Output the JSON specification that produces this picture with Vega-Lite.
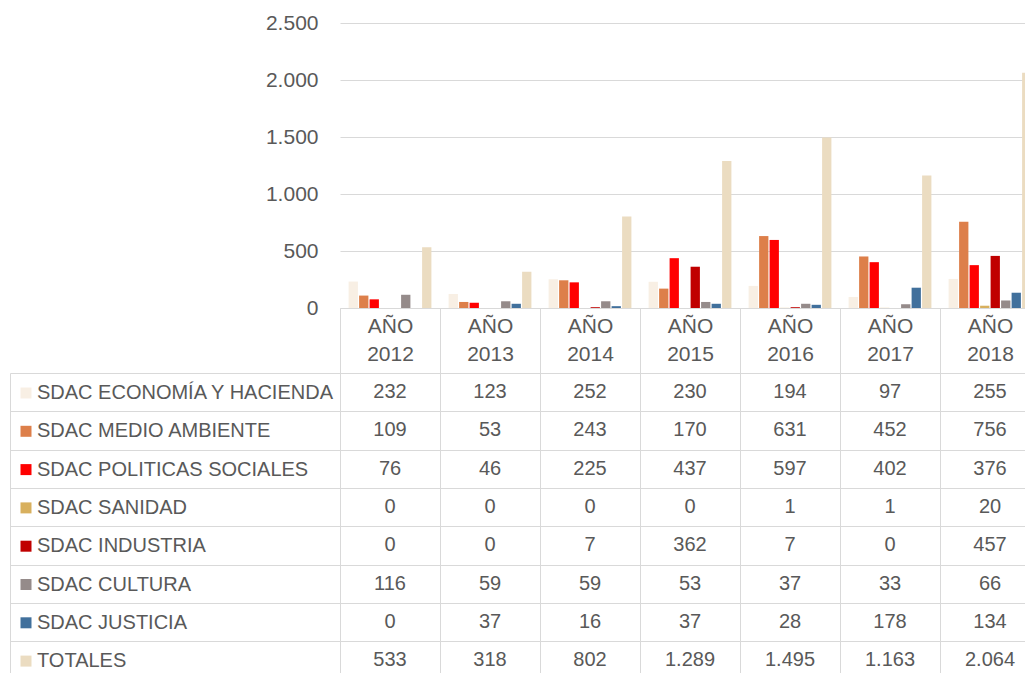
{
  "$schema": "https://vega.github.io/schema/vega-lite/v6.json",
  "width": 1025,
  "height": 673,
  "autosize": {"type": "none"},
  "padding": 0,
  "background": "white",
  "config": {
    "view": {"stroke": null},
    "font": "Liberation Sans",
    "locale": {"number": {"decimal": ",", "thousands": ".", "grouping": [3], "currency": ["", " €"]}},
    "axisX": {
      "orient": "bottom", "offset": -365, "title": null, "grid": false,
      "domainColor": "#d9d9d9", "domainWidth": 1,
      "tickBand": "extent", "tickSize": 365, "tickColor": "#d9d9d9", "tickWidth": 1,
      "labelPadding": -358, "labelExpr": "split(datum.label, ' ')",
      "labelFontSize": 21, "labelColor": "#595959", "labelBaseline": "top",
      "labelLineHeight": 28, "labelAngle": 0
    }
  },
  "datasets": {
    "d": [
      {"year": "AÑO 2012", "series": "SDAC ECONOMÍA Y HACIENDA", "value": 232},
      {"year": "AÑO 2013", "series": "SDAC ECONOMÍA Y HACIENDA", "value": 123},
      {"year": "AÑO 2014", "series": "SDAC ECONOMÍA Y HACIENDA", "value": 252},
      {"year": "AÑO 2015", "series": "SDAC ECONOMÍA Y HACIENDA", "value": 230},
      {"year": "AÑO 2016", "series": "SDAC ECONOMÍA Y HACIENDA", "value": 194},
      {"year": "AÑO 2017", "series": "SDAC ECONOMÍA Y HACIENDA", "value": 97},
      {"year": "AÑO 2018", "series": "SDAC ECONOMÍA Y HACIENDA", "value": 255},
      {"year": "AÑO 2012", "series": "SDAC MEDIO AMBIENTE", "value": 109},
      {"year": "AÑO 2013", "series": "SDAC MEDIO AMBIENTE", "value": 53},
      {"year": "AÑO 2014", "series": "SDAC MEDIO AMBIENTE", "value": 243},
      {"year": "AÑO 2015", "series": "SDAC MEDIO AMBIENTE", "value": 170},
      {"year": "AÑO 2016", "series": "SDAC MEDIO AMBIENTE", "value": 631},
      {"year": "AÑO 2017", "series": "SDAC MEDIO AMBIENTE", "value": 452},
      {"year": "AÑO 2018", "series": "SDAC MEDIO AMBIENTE", "value": 756},
      {"year": "AÑO 2012", "series": "SDAC POLITICAS SOCIALES", "value": 76},
      {"year": "AÑO 2013", "series": "SDAC POLITICAS SOCIALES", "value": 46},
      {"year": "AÑO 2014", "series": "SDAC POLITICAS SOCIALES", "value": 225},
      {"year": "AÑO 2015", "series": "SDAC POLITICAS SOCIALES", "value": 437},
      {"year": "AÑO 2016", "series": "SDAC POLITICAS SOCIALES", "value": 597},
      {"year": "AÑO 2017", "series": "SDAC POLITICAS SOCIALES", "value": 402},
      {"year": "AÑO 2018", "series": "SDAC POLITICAS SOCIALES", "value": 376},
      {"year": "AÑO 2012", "series": "SDAC SANIDAD", "value": 0},
      {"year": "AÑO 2013", "series": "SDAC SANIDAD", "value": 0},
      {"year": "AÑO 2014", "series": "SDAC SANIDAD", "value": 0},
      {"year": "AÑO 2015", "series": "SDAC SANIDAD", "value": 0},
      {"year": "AÑO 2016", "series": "SDAC SANIDAD", "value": 1},
      {"year": "AÑO 2017", "series": "SDAC SANIDAD", "value": 1},
      {"year": "AÑO 2018", "series": "SDAC SANIDAD", "value": 20},
      {"year": "AÑO 2012", "series": "SDAC INDUSTRIA", "value": 0},
      {"year": "AÑO 2013", "series": "SDAC INDUSTRIA", "value": 0},
      {"year": "AÑO 2014", "series": "SDAC INDUSTRIA", "value": 7},
      {"year": "AÑO 2015", "series": "SDAC INDUSTRIA", "value": 362},
      {"year": "AÑO 2016", "series": "SDAC INDUSTRIA", "value": 7},
      {"year": "AÑO 2017", "series": "SDAC INDUSTRIA", "value": 0},
      {"year": "AÑO 2018", "series": "SDAC INDUSTRIA", "value": 457},
      {"year": "AÑO 2012", "series": "SDAC CULTURA", "value": 116},
      {"year": "AÑO 2013", "series": "SDAC CULTURA", "value": 59},
      {"year": "AÑO 2014", "series": "SDAC CULTURA", "value": 59},
      {"year": "AÑO 2015", "series": "SDAC CULTURA", "value": 53},
      {"year": "AÑO 2016", "series": "SDAC CULTURA", "value": 37},
      {"year": "AÑO 2017", "series": "SDAC CULTURA", "value": 33},
      {"year": "AÑO 2018", "series": "SDAC CULTURA", "value": 66},
      {"year": "AÑO 2012", "series": "SDAC JUSTICIA", "value": 0},
      {"year": "AÑO 2013", "series": "SDAC JUSTICIA", "value": 37},
      {"year": "AÑO 2014", "series": "SDAC JUSTICIA", "value": 16},
      {"year": "AÑO 2015", "series": "SDAC JUSTICIA", "value": 37},
      {"year": "AÑO 2016", "series": "SDAC JUSTICIA", "value": 28},
      {"year": "AÑO 2017", "series": "SDAC JUSTICIA", "value": 178},
      {"year": "AÑO 2018", "series": "SDAC JUSTICIA", "value": 134},
      {"year": "AÑO 2012", "series": "TOTALES", "value": 533},
      {"year": "AÑO 2013", "series": "TOTALES", "value": 318},
      {"year": "AÑO 2014", "series": "TOTALES", "value": 802},
      {"year": "AÑO 2015", "series": "TOTALES", "value": 1289},
      {"year": "AÑO 2016", "series": "TOTALES", "value": 1495},
      {"year": "AÑO 2017", "series": "TOTALES", "value": 1163},
      {"year": "AÑO 2018", "series": "TOTALES", "value": 2064}
    ]
  },
  "data": {"name": "d"},
  "layer": [
    {
      "mark": {"type": "bar"},
      "encoding": {
        "x": {
          "field": "year", "type": "nominal",
          "scale": {"range": [340, 1040], "paddingInner": 0, "paddingOuter": 0}
        },
        "xOffset": {
          "field": "series", "type": "nominal",
          "sort": ["SDAC ECONOMÍA Y HACIENDA", "SDAC MEDIO AMBIENTE", "SDAC POLITICAS SOCIALES", "SDAC SANIDAD", "SDAC INDUSTRIA", "SDAC CULTURA", "SDAC JUSTICIA", "TOTALES"],
          "scale": {"paddingInner": 0.114, "paddingOuter": 0.819}
        },
        "y": {
          "field": "value", "type": "quantitative",
          "scale": {"domain": [0, 2500], "range": [308, 23], "nice": false},
          "axis": {
            "orient": "left", "offset": -340, "title": null, "domain": false, "ticks": false,
            "grid": true, "gridColor": "#d9d9d9", "gridWidth": 1,
            "values": [0, 500, 1000, 1500, 2000, 2500], "format": ",d",
            "labelFontSize": 21, "labelColor": "#595959", "labelPadding": 22
          }
        },
        "color": {
          "field": "series", "type": "nominal",
          "sort": ["SDAC ECONOMÍA Y HACIENDA", "SDAC MEDIO AMBIENTE", "SDAC POLITICAS SOCIALES", "SDAC SANIDAD", "SDAC INDUSTRIA", "SDAC CULTURA", "SDAC JUSTICIA", "TOTALES"],
          "scale": {
            "domain": ["SDAC ECONOMÍA Y HACIENDA", "SDAC MEDIO AMBIENTE", "SDAC POLITICAS SOCIALES", "SDAC SANIDAD", "SDAC INDUSTRIA", "SDAC CULTURA", "SDAC JUSTICIA", "TOTALES"],
            "range": ["#F8EFE4", "#DD7F4A", "#FF0000", "#D8B05E", "#C00000", "#958B8A", "#41709C", "#EBDCC1"]
          },
          "legend": {
            "orient": "none", "legendX": 16, "legendY": 383, "title": null, "padding": 0,
            "symbolType": "square", "symbolSize": 121, "symbolStrokeWidth": 0,
            "labelFontSize": 20, "labelColor": "#595959", "labelOffset": 1, "labelLimit": 500,
            "rowPadding": 18.3
          }
        }
      }
    },
    {
      "mark": {"type": "text", "fontSize": 20, "color": "#595959", "baseline": "middle"},
      "encoding": {
        "x": {"field": "year", "type": "nominal"},
        "y": {
          "field": "series", "type": "nominal",
          "sort": ["SDAC ECONOMÍA Y HACIENDA", "SDAC MEDIO AMBIENTE", "SDAC POLITICAS SOCIALES", "SDAC SANIDAD", "SDAC INDUSTRIA", "SDAC CULTURA", "SDAC JUSTICIA", "TOTALES"],
          "scale": {"range": [373, 679.4], "paddingInner": 0, "paddingOuter": 0},
          "axis": {
            "orient": "right", "offset": -1015, "title": null, "labels": false, "grid": false,
            "domainColor": "#d9d9d9", "domainWidth": 1,
            "tickBand": "extent", "tickSize": 1015, "tickColor": "#d9d9d9", "tickWidth": 1
          }
        },
        "text": {"field": "value", "type": "quantitative", "format": ",d"}
      }
    }
  ],
  "resolve": {"scale": {"y": "independent"}}
}
